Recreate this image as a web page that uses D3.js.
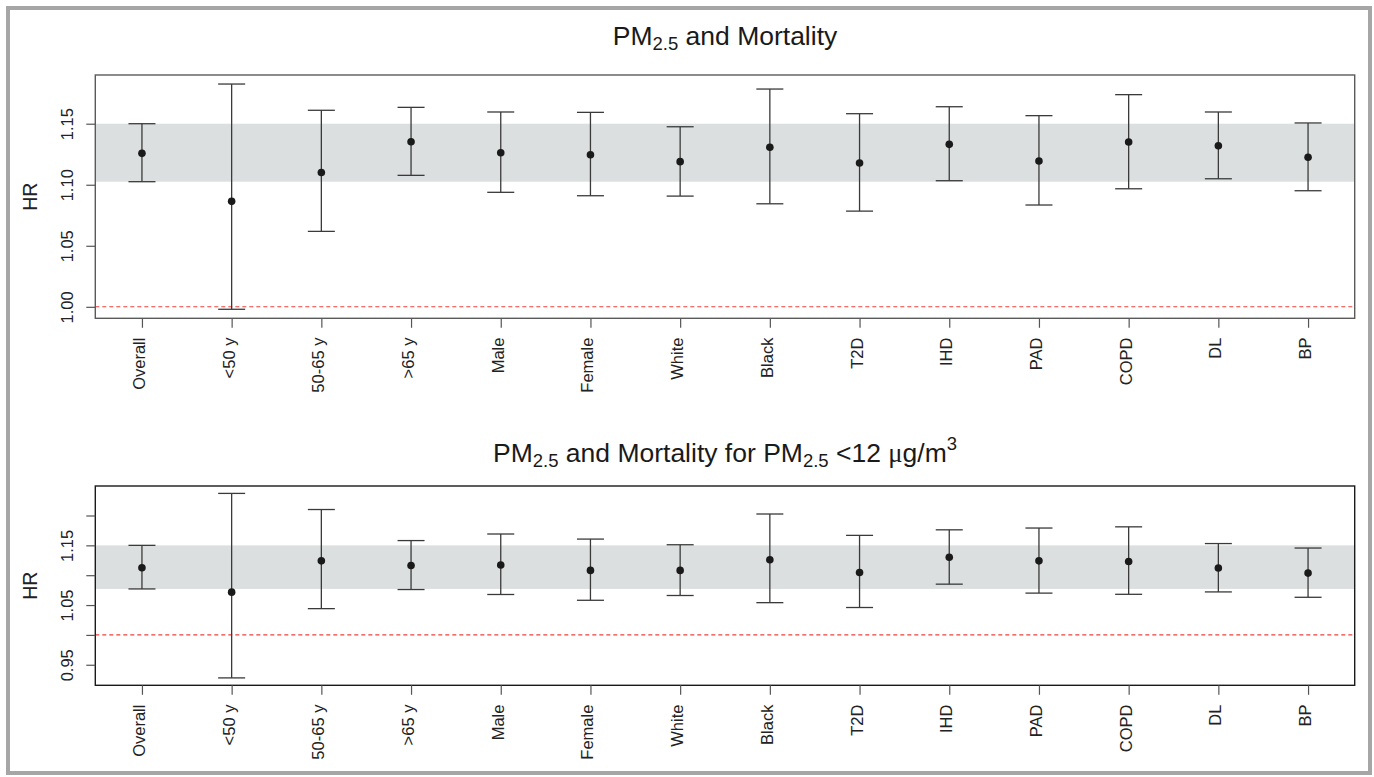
<!DOCTYPE html>
<html>
<head>
<meta charset="utf-8">
<script src="https://cdn.jsdelivr.net/npm/d3@7"></script>
<style>
  html, body { margin: 0; padding: 0; background: #fff; }
  svg { display: block; font-family: "Liberation Sans", Arial, sans-serif; }
</style>
</head>
<body>
<svg id="chart" width="1374" height="777"></svg>
<script>
// ---- data ----
const categories = ["Overall", "<50 y", "50-65 y", ">65 y", "Male", "Female", "White", "Black", "T2D", "IHD", "PAD", "COPD", "DL", "BP"];

const topEst   = [1.1257, 1.0864, 1.110, 1.1352, 1.1262, 1.1246, 1.1189, 1.1307, 1.1178, 1.1331, 1.1194, 1.135, 1.132, 1.1225];
const topLower = [1.1025, 0.998, 1.0618, 1.1077, 1.0938, 1.091, 1.0907, 1.0844, 1.0784, 1.1033, 1.0834, 1.0967, 1.1049, 1.0951];
const topUpper = [1.150, 1.1825, 1.161, 1.1634, 1.1596, 1.1593, 1.1475, 1.1784, 1.1582, 1.1639, 1.1566, 1.1738, 1.1596, 1.1506];

const botEst   = [1.1124, 1.0716, 1.124, 1.1163, 1.117, 1.108, 1.108, 1.126, 1.1046, 1.130, 1.124, 1.123, 1.112, 1.1035];
const botLower = [1.077, 0.928, 1.044, 1.076, 1.0677, 1.058, 1.066, 1.054, 1.0459, 1.085, 1.070, 1.068, 1.072, 1.063];
const botUpper = [1.150, 1.237, 1.210, 1.158, 1.169, 1.1605, 1.151, 1.2025, 1.1667, 1.176, 1.179, 1.181, 1.153, 1.1455];

const topTicks = [1.00, 1.05, 1.10, 1.15];
const topTickLabels = ["1.00", "1.05", "1.10", "1.15"];
const botTicks = [0.95, 1.00, 1.05, 1.10, 1.15, 1.20];
const botTickLabels = ["0.95", "", "1.05", "", "1.15", ""];

const refValue = 1.0;

// ---- layout ----
const svg = d3.select("#chart");
const W = 1374, H = 777;
const plotLeft = 95.3, plotRight = 1354.7;

svg.append("rect").attr("x", 0).attr("y", 0).attr("width", W).attr("height", H).attr("fill", "#fff");
// outer frame
svg.append("rect").attr("x", 8).attr("y", 8).attr("width", 1362).attr("height", 765)
  .attr("fill", "none").attr("stroke", "#a6a6a6").attr("stroke-width", 4);

const x = d3.scaleLinear().domain([0.48, categories.length + 0.52]).range([plotLeft, plotRight]);

function panel(cfg) {
  const { top, bottom, domain, est, lower, upper, ticks, tickLabels, frameColor, titleY, titleParts } = cfg;
  const y = d3.scaleLinear().domain(domain).range([bottom, top]);
  const g = svg.append("g");

  // shaded band from overall CI
  g.append("rect")
    .attr("x", plotLeft).attr("width", plotRight - plotLeft)
    .attr("y", y(upper[0])).attr("height", y(lower[0]) - y(upper[0]))
    .attr("fill", "#dcdfe0");

  // reference line
  g.append("line")
    .attr("x1", plotLeft).attr("x2", plotRight)
    .attr("y1", y(refValue)).attr("y2", y(refValue))
    .attr("stroke", "#f0403c").attr("stroke-width", 1.1).attr("stroke-dasharray", "4,3");

  const data = categories.map((c, i) => ({ c, i: i + 1, est: est[i], lo: lower[i], hi: upper[i] }));
  const capW = 13.5;
  const eb = g.append("g").attr("stroke", "#3a3a3a").attr("stroke-width", 1.3);
  eb.selectAll("line.v").data(data).join("line")
    .attr("x1", d => x(d.i)).attr("x2", d => x(d.i))
    .attr("y1", d => y(d.lo)).attr("y2", d => y(d.hi));
  eb.selectAll("line.hi").data(data).join("line").attr("class", "hi")
    .attr("x1", d => x(d.i) - capW).attr("x2", d => x(d.i) + capW)
    .attr("y1", d => y(d.hi)).attr("y2", d => y(d.hi));
  eb.selectAll("line.lo").data(data).join("line").attr("class", "lo")
    .attr("x1", d => x(d.i) - capW).attr("x2", d => x(d.i) + capW)
    .attr("y1", d => y(d.lo)).attr("y2", d => y(d.lo));

  g.selectAll("circle").data(data).join("circle")
    .attr("cx", d => x(d.i)).attr("cy", d => y(d.est)).attr("r", 3.8)
    .attr("fill", "#1a1a1a");

  // frame
  g.append("rect").attr("x", plotLeft).attr("y", top)
    .attr("width", plotRight - plotLeft).attr("height", bottom - top)
    .attr("fill", "none").attr("stroke", frameColor).attr("stroke-width", 1.4);

  // y axis
  const ya = g.append("g").attr("transform", `translate(${plotLeft},0)`)
    .call(d3.axisLeft(y).tickValues(ticks).tickSize(9).tickFormat((d, i) => tickLabels[i]));
  ya.select(".domain").remove();
  ya.selectAll(".tick line").attr("stroke", "#555").attr("stroke-width", 1.2);
  ya.selectAll(".tick text")
    .attr("x", null).attr("dy", null)
    .attr("transform", "translate(-22.6,0) rotate(-90)")
    .attr("text-anchor", "middle")
    .attr("font-size", 16.5).attr("fill", "#222")
    .attr("font-family", "'Liberation Sans', Arial, sans-serif");

  // x axis
  const xa = g.append("g").attr("transform", `translate(0,${bottom})`)
    .call(d3.axisBottom(x).tickValues(d3.range(1, categories.length + 1)).tickSize(9.5)
      .tickFormat(d => categories[d - 1]));
  xa.select(".domain").remove();
  xa.selectAll(".tick line").attr("stroke", "#555").attr("stroke-width", 1.2);
  xa.selectAll(".tick text")
    .attr("y", null).attr("dy", null)
    .attr("transform", "translate(2.5,19.3) rotate(-90)")
    .attr("text-anchor", "end")
    .attr("font-size", 16.5).attr("fill", "#222")
    .attr("font-family", "'Liberation Sans', Arial, sans-serif");

  // HR label
  g.append("text")
    .attr("transform", `translate(36.5,${(top + bottom) / 2}) rotate(-90)`)
    .attr("text-anchor", "middle").attr("font-size", 19.5).attr("fill", "#222")
    .text("HR");

  // title
  const t = g.append("text").attr("x", (plotLeft + plotRight) / 2).attr("y", titleY)
    .attr("text-anchor", "middle").attr("font-size", 26.5).attr("fill", "#1a1a1a");
  titleParts.forEach(p => {
    const ts = t.append("tspan").text(p.text);
    if (p.sub) ts.attr("font-size", 18.5).attr("dy", 5);
    if (p.sup) ts.attr("font-size", 18.5).attr("dy", -12);
    if (p.reset) ts.attr("dy", p.reset);
    if (p.serif) ts.attr("font-family", "'Liberation Serif', 'Times New Roman', serif");
  });
}

panel({
  top: 75, bottom: 318.3, domain: [0.9906, 1.1899],
  est: topEst, lower: topLower, upper: topUpper,
  ticks: topTicks, tickLabels: topTickLabels, frameColor: "#5a5a5a",
  titleY: 44.5,
  titleParts: [
    { text: "PM" }, { text: "2.5", sub: true }, { text: " and Mortality", reset: -5 }
  ]
});

panel({
  top: 486, bottom: 685.3, domain: [0.9156, 1.2494],
  est: botEst, lower: botLower, upper: botUpper,
  ticks: botTicks, tickLabels: botTickLabels, frameColor: "#1a1a1a",
  titleY: 462,
  titleParts: [
    { text: "PM" }, { text: "2.5", sub: true }, { text: " and Mortality for PM", reset: -5 },
    { text: "2.5", sub: true }, { text: " <12 ", reset: -5 }, { text: "\u03BC", serif: true },
    { text: "g/m" }, { text: "3", sup: true }
  ]
});
</script>
</body>
</html>
